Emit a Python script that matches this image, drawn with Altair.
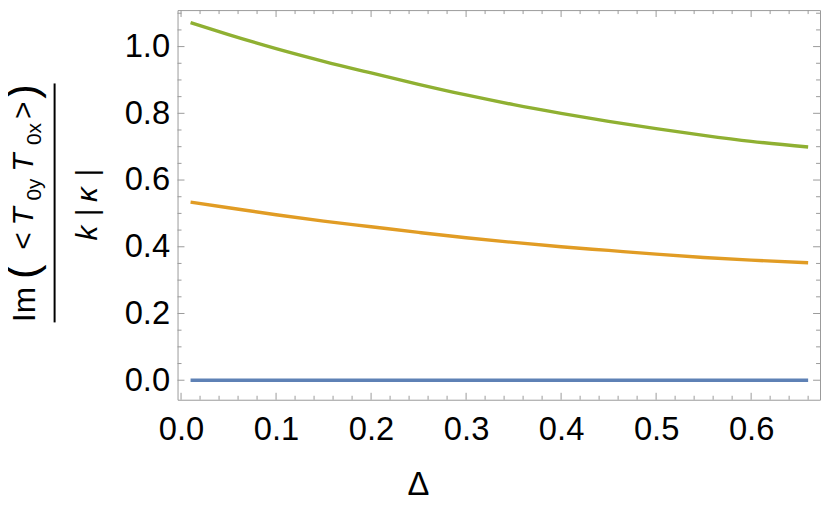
import altair as alt
import pandas as pd

# ---- data ----
delta = [0.01, 0.05, 0.10, 0.15, 0.20, 0.25, 0.30, 0.35, 0.40, 0.45, 0.50, 0.55, 0.60, 0.66]
blue = [0.0] * len(delta)
orange = [0.534, 0.517, 0.496, 0.477, 0.460, 0.443, 0.427, 0.413, 0.400, 0.389, 0.378, 0.368, 0.360, 0.352]
green = [1.072, 1.036, 0.994, 0.956, 0.921, 0.887, 0.855, 0.826, 0.800, 0.776, 0.754, 0.734, 0.716, 0.699]

series_names = ["s1", "s2", "s3"]
series_colors = ["#5E81B5", "#E19C24", "#8FB032"]

x_major = [0.0, 0.1, 0.2, 0.3, 0.4, 0.5, 0.6]
x_minor = [0.02, 0.04, 0.06, 0.08, 0.12, 0.14, 0.16, 0.18, 0.22, 0.24, 0.26, 0.28,
           0.32, 0.34, 0.36, 0.38, 0.42, 0.44, 0.46, 0.48, 0.52, 0.54, 0.56, 0.58,
           0.62, 0.64, 0.66]
y_major = [0.0, 0.2, 0.4, 0.6, 0.8, 1.0]
y_minor = [0.05, 0.10, 0.15, 0.25, 0.30, 0.35, 0.45, 0.50, 0.55, 0.65, 0.70, 0.75,
           0.85, 0.90, 0.95, 1.05, 1.10]

FONT = "Liberation Sans"
W, H = 648, 393
X_DOMAIN = [-0.0037, 0.6725]
Y_DOMAIN = [-0.0585, 1.1094]
FRAME = "#9a9a9a"
PL, PT = 179, 8  # page position of plot origin

rows = []
for name, vals in zip(series_names, [blue, orange, green]):
    for d, v in zip(delta, vals):
        rows.append({"delta": d, "value": v, "series": name})
df = pd.DataFrame(rows)

xs = alt.Scale(domain=X_DOMAIN, nice=False, zero=False)
ys = alt.Scale(domain=Y_DOMAIN, nice=False, zero=False)

lines = alt.Chart(df).mark_line(strokeWidth=3.4, interpolate="monotone", clip=True).encode(
    x=alt.X("delta:Q", scale=xs,
            axis=alt.Axis(values=x_major, format=".1f", ticks=False, domain=False, grid=False,
                          labelFont=FONT, labelFontSize=33, labelColor="black",
                          labelPadding=14, title=None)),
    y=alt.Y("value:Q", scale=ys,
            axis=alt.Axis(values=y_major, format=".1f", ticks=False, domain=False, grid=False,
                          labelFont=FONT, labelFontSize=33, labelColor="black",
                          labelPadding=8, title=None)),
    color=alt.Color("series:N", scale=alt.Scale(domain=series_names, range=series_colors), legend=None),
    order=alt.Order("delta:Q"),
)

def xticks(vals, length):
    d = pd.DataFrame({"t": vals})
    bottom = alt.Chart(d).mark_rule(color=FRAME, strokeWidth=1).encode(
        x=alt.X("t:Q", scale=xs), y=alt.value(H), y2=alt.value(H - length))
    top = alt.Chart(d).mark_rule(color=FRAME, strokeWidth=1).encode(
        x=alt.X("t:Q", scale=xs), y=alt.value(0), y2=alt.value(length))
    return [bottom, top]

def yticks(vals, length):
    d = pd.DataFrame({"t": vals})
    left = alt.Chart(d).mark_rule(color=FRAME, strokeWidth=1).encode(
        y=alt.Y("t:Q", scale=ys), x=alt.value(0), x2=alt.value(length))
    right = alt.Chart(d).mark_rule(color=FRAME, strokeWidth=1).encode(
        y=alt.Y("t:Q", scale=ys), x=alt.value(W), x2=alt.value(W - length))
    return [left, right]

dummy = pd.DataFrame({"a": [0]})

def txt(s, px, py, size, italic=False, angle=270):
    return alt.Chart(dummy).mark_text(
        angle=angle, align="center", baseline="middle", fontSize=size, font=FONT,
        fontStyle="italic" if italic else "normal", color="black", clip=False,
    ).encode(x=alt.value(px - PL), y=alt.value(py - PT), text=alt.value(s))

title_parts = [
    txt("Im", 25, 305, 32),
    txt("(", 24, 272, 44),
    txt("<", 24, 241, 30),
    txt("T", 24, 216, 30, italic=True),
    txt("0y", 35, 189, 21),
    txt("T", 24, 162, 30, italic=True),
    txt("0x", 35, 133, 21),
    txt(">", 24, 109, 30),
    txt(")", 24, 90, 44),
    txt("k", 89, 233, 30, italic=True),
    txt("|", 89, 212, 30),
    txt("κ", 89, 194, 30, italic=True),
    txt("|", 89, 172, 30),
    txt("Δ", 422, 487, 33, angle=0),
]

bar = alt.Chart(dummy).mark_rule(color="black", strokeWidth=2).encode(
    x=alt.value(55 - PL), y=alt.value(82 - PT), y2=alt.value(323 - PT))

layers = [lines] + xticks(x_major, 7) + xticks(x_minor, 4) + yticks(y_major, 7) + yticks(y_minor, 4) \
    + title_parts + [bar]

chart = alt.layer(*layers).properties(
    width=W, height=H,
    padding={"left": 171, "top": 0, "right": 2, "bottom": 97},
    autosize=alt.AutoSizeParams(type="none"),
).configure_view(stroke=FRAME, strokeWidth=1)

chart.save("out.html", embed_options={"renderer": "svg", "actions": False})
